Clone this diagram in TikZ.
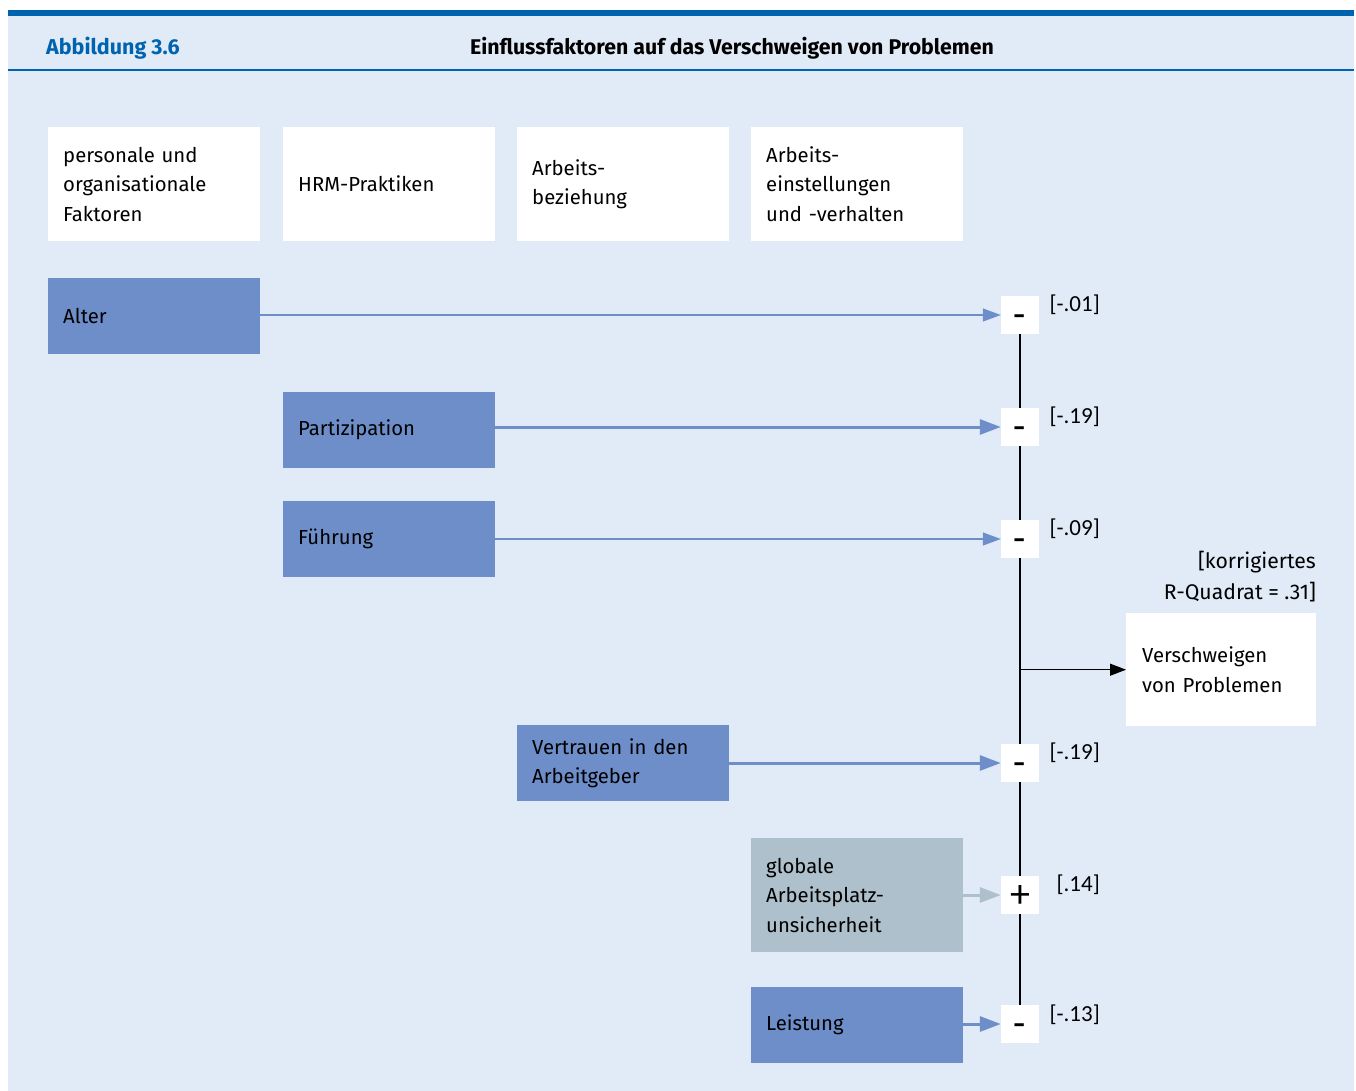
\documentclass[tikz,border=0pt]{standalone}
\usepackage{fontspec}
\setmainfont{Fira Sans}
\newfontfamily\coeffont{Carlito}
\usetikzlibrary{arrows.meta}
\definecolor{bg}{HTML}{E1EBF7}
\definecolor{dblue}{HTML}{0063AF}
\definecolor{boxblue}{HTML}{6E8EC9}
\definecolor{boxgrey}{HTML}{AEC0CB}
\begin{document}
\begin{tikzpicture}[x=1pt,y=-1pt,
  txt/.style={font=\fontsize{20.3}{29.5}\selectfont},
  basebox/.style={txt, anchor=north west, inner xsep=15pt, inner ysep=0pt,
    text width=182pt, minimum width=212pt, align=left},
  hbox/.style={basebox, fill=white, minimum height=114pt},
  fbox/.style={basebox, fill=boxblue, minimum height=76pt},
  gbox/.style={basebox, fill=boxgrey, minimum height=114pt},
  sign/.style={fill=white, minimum size=38pt, inner sep=0pt,
    text height=24pt, text depth=0pt,
    font=\coeffont\fontsize{40}{40}\selectfont},
  coef/.style={font=\coeffont\fontsize{23}{23}\selectfont, anchor=east, inner sep=0pt},
  thin/.style={boxblue, line width=1.3pt, -{Triangle[length=18pt,width=13pt]}},
  thick/.style={boxblue, line width=3pt, -{Triangle[length=21pt,width=15pt]}},
  greyarr/.style={boxgrey, line width=3pt, -{Triangle[length=21pt,width=15pt]}},
  vline/.style={black, line width=1.2pt},
]
\useasboundingbox (0,0) rectangle (1356,1091);
\fill[white] (0,0) rectangle (1356,1091);
\fill[bg] (8,10) rectangle (1354,1091);
\fill[dblue] (8,10) rectangle (1354,16);
\draw[dblue, line width=1.2pt] (8,70) -- (1354,70);

\node[anchor=west, inner sep=0pt, text=dblue, font=\fontsize{21.5}{21.5}\selectfont\bfseries] (abb) at (46,48) {Abbildung 3.6};
\node[inner sep=0pt, font=\fontsize{21.3}{21.3}\selectfont\bfseries] (title) at (732,48) {Einflussfaktoren auf das Verschweigen von Problemen};

% header boxes
\node[hbox] (h1) at (48,127) {personale und\\organisationale\\Faktoren};
\node[hbox] (h2) at (283,127) {HRM-Praktiken};
\node[hbox] (h3) at (517,127) {Arbeits-\\beziehung};
\node[hbox] (h4) at (751,127) {Arbeits-\\einstellungen\\und -verhalten};

% factor boxes
\node[fbox] (alter) at (48,278) {Alter};
\node[fbox] (part) at (283,392) {Partizipation};
\node[fbox] (fuehr) at (283,501) {Führung};
\node[fbox] (vert) at (517,725) {Vertrauen in den\\Arbeitgeber};
\node[gbox] (glob) at (751,838) {globale\\Arbeitsplatz-\\unsicherheit};
\node[fbox] (leist) at (751,987) {Leistung};

% sign boxes
\node[sign] (s1) at (1020,315) {-};
\node[sign] (s2) at (1020,427) {-};
\node[sign] (s3) at (1020,539) {-};
\node[sign] (s4) at (1020,763) {-};
\node[sign] (s5) at (1020,895) {+};
\node[sign] (s6) at (1020,1024) {-};

% coefficients
\node[coef] (c1) at (1100,305) {[-.01]};
\node[coef] (c2) at (1100,417) {[-.19]};
\node[coef] (c3) at (1100,529) {[-.09]};
\node[coef] (c4) at (1100,753) {[-.19]};
\node[coef] (c5) at (1100,885) {[.14]};
\node[coef] (c6) at (1100,1015) {[-.13]};

% outcome
\node[txt, anchor=north west, fill=white, inner xsep=16pt, inner ysep=0pt,
  minimum width=190pt, minimum height=113pt, text width=158pt, align=left] (out) at (1126,613) {Verschweigen\\von Problemen};
\node[anchor=east, inner sep=0pt, align=right, font=\fontsize{21.2}{31}\selectfont] (rq) at (1316,577) {[korrigiertes\\R-Quadrat = .31]};

% vertical line
\draw[vline] (s1) -- (s2) (s2) -- (s3) (s3) -- (s4) (s4) -- (s5) (s5) -- (s6);
\coordinate (j) at (s3 |- out.west);
\draw[vline, -{Triangle[length=16pt,width=12pt]}] (j) -- (out.west);

% arrows
\draw[thin] (alter.east |- s1.west) -- (s1.west);
\draw[thick] (part.east |- s2.west) -- (s2.west);
\draw[thin] (fuehr.east |- s3.west) -- (s3.west);
\draw[thick] (vert.east |- s4.west) -- (s4.west);
\draw[greyarr] (glob.east |- s5.west) -- (s5.west);
\draw[thick] (leist.east |- s6.west) -- (s6.west);
\end{tikzpicture}
\end{document}
